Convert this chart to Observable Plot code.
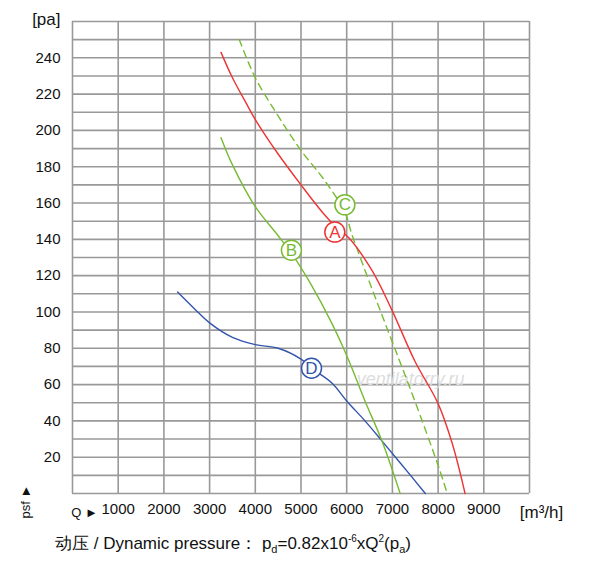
<!DOCTYPE html><html><head><meta charset="utf-8">
<script src="https://cdn.jsdelivr.net/npm/d3@7"></script>
<script src="https://cdn.jsdelivr.net/npm/@observablehq/plot@0.6"></script>
<style>body{margin:0;background:#fff;font-family:"Liberation Sans",Arial,sans-serif}
#cap{font-size:17px;position:absolute;left:55px;top:532px;color:#111}</style></head><body>
<div id="chart"></div>
<div id="cap">动压 / Dynamic pressure：&nbsp;p<sub style="font-size:11px">d</sub>=0.82x10<sup style="font-size:10px">-6</sup>xQ<sup style="font-size:10px">2</sup>(p<sub style="font-size:11px">a</sub>)</div>
<script>
const curveA = [[3250,243],[3500,229],[3800,215],[4000,206],[4500,187],[5000,170],[5500,154],[5800,146],[6040,141],[6550,123],[6990,101],[7490,73],[8000,49.5],[8310,27.5],[8590,0]];
const curveB = [[3250,196],[3500,181],[4000,158],[4500,142],[4800,132],[5200,116],[5670,94],[6000,76],[6400,51],[6770,29],[7170,0]];
const curveC = [[3650,250],[4000,229],[4500,208],[5000,189],[5500,173],[5960,155],[6110,143],[6550,113],[6990,84],[7490,51],[8020,14],[8200,0]];
const curveD = [[2300,111],[2700,101],[3000,94],[3500,86],[4000,82],[4500,80],[5000,74],[5230,69],[5670,61],[6000,51],[6400,40],[6770,29],[7200,16],[7720,0]];
const labels = [{q:5740,p:144,t:"A",c:"#ee3333"},{q:4790,p:134,t:"B",c:"#77bb33"},{q:5960,p:159,t:"C",c:"#77bb33"},{q:5230,p:69,t:"D",c:"#3355aa"}];
const xTicks = [1000,2000,3000,4000,5000,6000,7000,8000,9000];
const yTicks = [20,40,60,80,100,120,140,160,180,200,220,240];
const toObj = a => a.map(([q,p])=>({q,p}));
const plot = Plot.plot({
  width:600,height:530,marginLeft:72,marginRight:71,marginTop:21,marginBottom:37,
  style:{fontFamily:"Liberation Sans, Arial, sans-serif",fontSize:"15px",color:"#111"},
  x:{domain:[0,10000],label:null},
  y:{domain:[0,260],label:null},
  marks:[
    Plot.gridY(d3.range(0,261,10),{stroke:"#999",strokeOpacity:1,strokeWidth:1.6}),
    Plot.gridX(d3.range(0,10001,1000),{stroke:"#999",strokeOpacity:1,strokeWidth:1.6}),
    Plot.text(["ventilatorry.ru"],{x:7400,y:63,text:d=>d,fill:"#ddd",fontSize:18,fontStyle:"italic"}),
    Plot.line(toObj(curveD),{x:"q",y:"p",stroke:"#3355aa",strokeWidth:1.4,curve:"catmull-rom"}),
    Plot.line(toObj(curveB),{x:"q",y:"p",stroke:"#77bb33",strokeWidth:1.4,curve:"catmull-rom"}),
    Plot.line(toObj(curveC),{x:"q",y:"p",stroke:"#77bb33",strokeWidth:1.4,strokeDasharray:"7,5",curve:"catmull-rom"}),
    Plot.line(toObj(curveA),{x:"q",y:"p",stroke:"#ee3333",strokeWidth:1.4,curve:"catmull-rom"}),
    Plot.dot(labels,{x:"q",y:"p",r:10,fill:"white",stroke:"c",strokeWidth:1.5}),
    Plot.text(labels,{x:"q",y:"p",text:"t",fill:"c",fontSize:17}),
    Plot.axisX({ticks:xTicks,tickSize:0,tickPadding:10,fontSize:15,tickFormat:d=>String(d)}),
    Plot.axisY({ticks:yTicks,tickSize:0,tickPadding:12,fontSize:15}),
    Plot.text(["[pa]"],{x:0,y:260,text:d=>d,dx:-12,dy:-2,textAnchor:"end",fontSize:17}),
    Plot.text(["Q ►"],{x:0,y:0,text:d=>d,dx:12,dy:19,fontSize:13}),
    Plot.text(["[m³/h]"],{x:10000,y:0,text:d=>d,dx:12,dy:19,fontSize:17}),
    Plot.text(["psf ►"],{x:0,y:0,text:d=>d,dx:-47,dy:25,rotate:-90,fontSize:13,textAnchor:"start"})
  ]
});
document.getElementById("chart").append(plot);
</script></body></html>
